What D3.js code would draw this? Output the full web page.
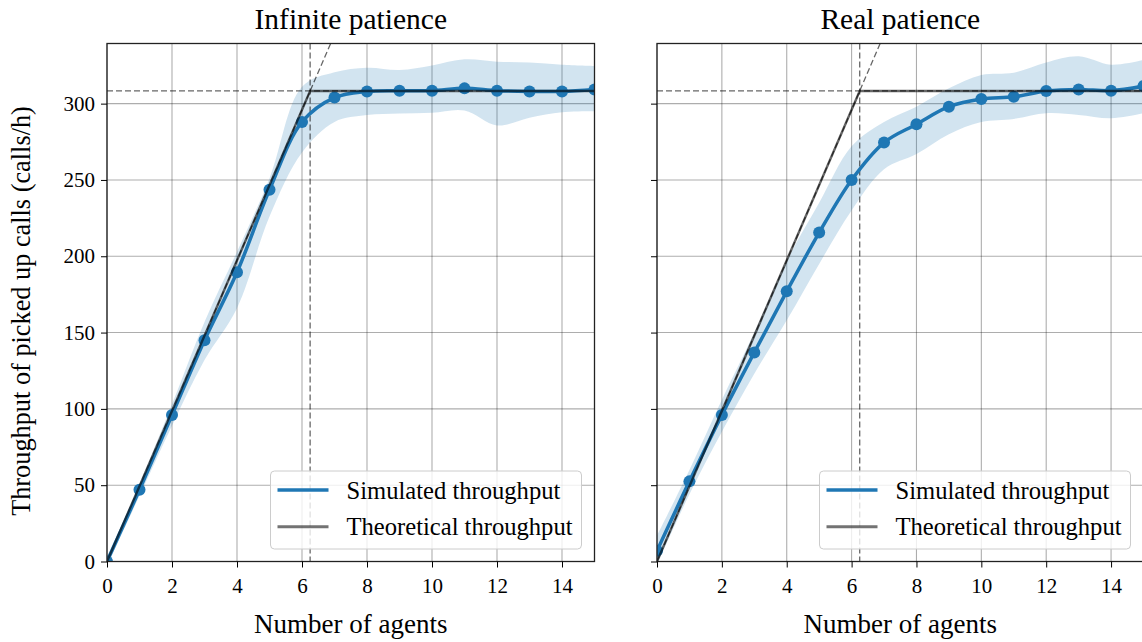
<!DOCTYPE html>
<html><head><meta charset="utf-8">
<script src="https://cdn.jsdelivr.net/npm/d3@7"></script>
<style>
body{margin:0;background:#fff}
svg{display:block}
text{font-family:"Liberation Serif",serif;fill:#000}
</style></head><body>
<svg id="c" width="1142" height="642"></svg>
<script>
// ---------- data ----------
const agents = [0,1,2,3,4,5,6,7,8,9,10,11,12,13,14,15];
const infMean  = [0,47,96,145,189.5,243.5,288,304,308,308.5,308.5,310,308.5,308,308,309.3];
const infUpper = [3,51,103,157,203,251,311,320.5,323.5,322,325,329,327.5,327,325.5,324.7];
const infLower = [-3,43,89,132,166,226,268,288,292.5,293.5,294,295.5,285.7,290.8,294.4,295];
const realMean  = [7,52.5,96,137,177,215.5,250,274.5,286.5,298,303,304.5,308.3,309.3,308.5,311.5];
const realUpper = [17,60,106,150,197,235,272,288,298,310,318.8,320.3,327,331,325.5,328.6];
const realLower = [-2,44,85,123,158,195,230,257,267,280,288,290,293.7,292.6,290.4,293.7];
const theoX = [0,6.25,15];
const theoY = [0,308.3,308.3];
const diagX = [0,15];
const diagY = [0,739.9];
const kneeAgents = 6.25;
const capacity = 308.3;
const xTicks = [0,2,4,6,8,10,12,14];
const yTicks = [0,50,100,150,200,250,300];
const titles = ["Infinite patience","Real patience"];
const legendLabels = ["Simulated throughput","Theoretical throughput"];
const xLabel = "Number of agents";
const yLabel = "Throughput of picked up calls (calls/h)";

// ---------- layout ----------
const svg = d3.select("#c");
const plotTop = 43.5, plotBottom = 561.5;
const panels = [
  {x0:107, x1:594.5, mean:infMean, up:infUpper, lo:infLower, title:titles[0], ylabels:true},
  {x0:657, x1:1143.5, mean:realMean, up:realUpper, lo:realLower, title:titles[1], ylabels:false}
];
const blue = "#1f77b4";

panels.forEach((p,i)=>{
  const x = d3.scaleLinear().domain([0,15]).range([p.x0,p.x1]);
  const y = d3.scaleLinear().domain([0,339.4]).range([plotBottom,plotTop]);
  const g = svg.append("g");
  const cid = "clip"+i;
  svg.append("clipPath").attr("id",cid).append("rect")
    .attr("x",p.x0).attr("y",plotTop).attr("width",p.x1-p.x0).attr("height",plotBottom-plotTop);

  // grid
  g.selectAll(".gx").data(xTicks).join("line")
    .attr("x1",d=>x(d)).attr("x2",d=>x(d)).attr("y1",plotTop).attr("y2",plotBottom)
    .attr("stroke","#000").attr("stroke-opacity",0.32).attr("stroke-width",1.1);
  g.selectAll(".gy").data(yTicks).join("line")
    .attr("x1",p.x0).attr("x2",p.x1).attr("y1",d=>y(d)).attr("y2",d=>y(d))
    .attr("stroke","#000").attr("stroke-opacity",0.32).attr("stroke-width",1.1);

  const pc = g.append("g").attr("clip-path",`url(#${cid})`);
  const idx = agents.map((a,k)=>k);
  // band
  const area = d3.area().x(k=>x(agents[k])).y0(k=>y(p.lo[k])).y1(k=>y(p.up[k])).curve(d3.curveCatmullRom.alpha(0.5));
  pc.append("path").attr("d",area(idx)).attr("fill",blue).attr("fill-opacity",0.2);

  // dashed reference lines
  const dash = "6,3";
  pc.append("line").attr("x1",x(diagX[0])).attr("y1",y(diagY[0])).attr("x2",x(diagX[1])).attr("y2",y(diagY[1]))
    .attr("stroke","#000").attr("stroke-opacity",0.6).attr("stroke-width",1.3).attr("stroke-dasharray",dash);
  pc.append("line").attr("x1",p.x0).attr("x2",p.x1).attr("y1",y(capacity)).attr("y2",y(capacity))
    .attr("stroke","#000").attr("stroke-opacity",0.6).attr("stroke-width",1.3).attr("stroke-dasharray",dash);
  pc.append("line").attr("x1",x(kneeAgents)).attr("x2",x(kneeAgents)).attr("y1",plotTop).attr("y2",plotBottom)
    .attr("stroke","#000").attr("stroke-opacity",0.6).attr("stroke-width",1.3).attr("stroke-dasharray",dash);

  // mean line + markers
  const line = d3.line().x(k=>x(agents[k])).y(k=>y(p.mean[k])).curve(d3.curveCatmullRom.alpha(0.5));
  pc.append("path").attr("d",line(idx)).attr("fill","none").attr("stroke",blue).attr("stroke-width",3.5);
  pc.selectAll("circle").data(idx).join("circle")
    .attr("cx",k=>x(agents[k])).attr("cy",k=>y(p.mean[k])).attr("r",6).attr("fill",blue);

  // theoretical
  const tl = d3.line().x(k=>x(theoX[k])).y(k=>y(theoY[k]));
  pc.append("path").attr("d",tl([0,1,2])).attr("fill","none").attr("stroke","#000")
    .attr("stroke-opacity",0.6).attr("stroke-width",2.4);

  // spines
  g.append("rect").attr("x",p.x0).attr("y",plotTop).attr("width",p.x1-p.x0).attr("height",plotBottom-plotTop)
    .attr("fill","none").attr("stroke","#222").attr("stroke-width",1.3);

  // axes
  const xa = g.append("g").attr("transform",`translate(0,${plotBottom})`)
    .call(d3.axisBottom(x).tickValues(xTicks).tickSize(6).tickPadding(11).tickFormat(d3.format("d")));
  xa.select(".domain").remove();
  xa.selectAll("text").attr("font-size",21);
  const ya = g.append("g").attr("transform",`translate(${p.x0},0)`)
    .call(d3.axisLeft(y).tickValues(yTicks).tickSize(6).tickPadding(6).tickFormat(p.ylabels?d3.format("d"):()=>""));
  ya.select(".domain").remove();
  ya.selectAll("text").attr("font-size",21);

  // title, x label
  const tcx = (p.x0+p.x1)/2;
  g.append("text").attr("x",tcx).attr("y",29).attr("text-anchor","middle").attr("font-size",29.5).text(p.title);
  g.append("text").attr("x",tcx).attr("y",633).attr("text-anchor","middle").attr("font-size",27).text(xLabel);

  // legend
  const lw = 311, lh = 78, lx = p.x1 - 13 - lw, ly = 471;
  const lg = g.append("g");
  lg.append("rect").attr("x",lx).attr("y",ly).attr("width",lw).attr("height",lh).attr("rx",4)
    .attr("fill","#fff").attr("fill-opacity",0.8).attr("stroke","#ccc").attr("stroke-width",1);
  const rows = [{c:blue,o:1,w:3.5},{c:"#000",o:0.55,w:3}];
  rows.forEach((r,j)=>{
    const ry = 490 + j*36.7;
    lg.append("line").attr("x1",lx+7).attr("x2",lx+58).attr("y1",ry).attr("y2",ry)
      .attr("stroke",r.c).attr("stroke-opacity",r.o).attr("stroke-width",r.w);
    lg.append("text").attr("x",lx+76).attr("y",ry).attr("dy","0.35em").attr("font-size",24.6).text(legendLabels[j]);
  });
});

svg.append("text").attr("transform","translate(30,311) rotate(-90)").attr("text-anchor","middle")
  .attr("font-size",26.3).text(yLabel);
</script>
</body></html>
